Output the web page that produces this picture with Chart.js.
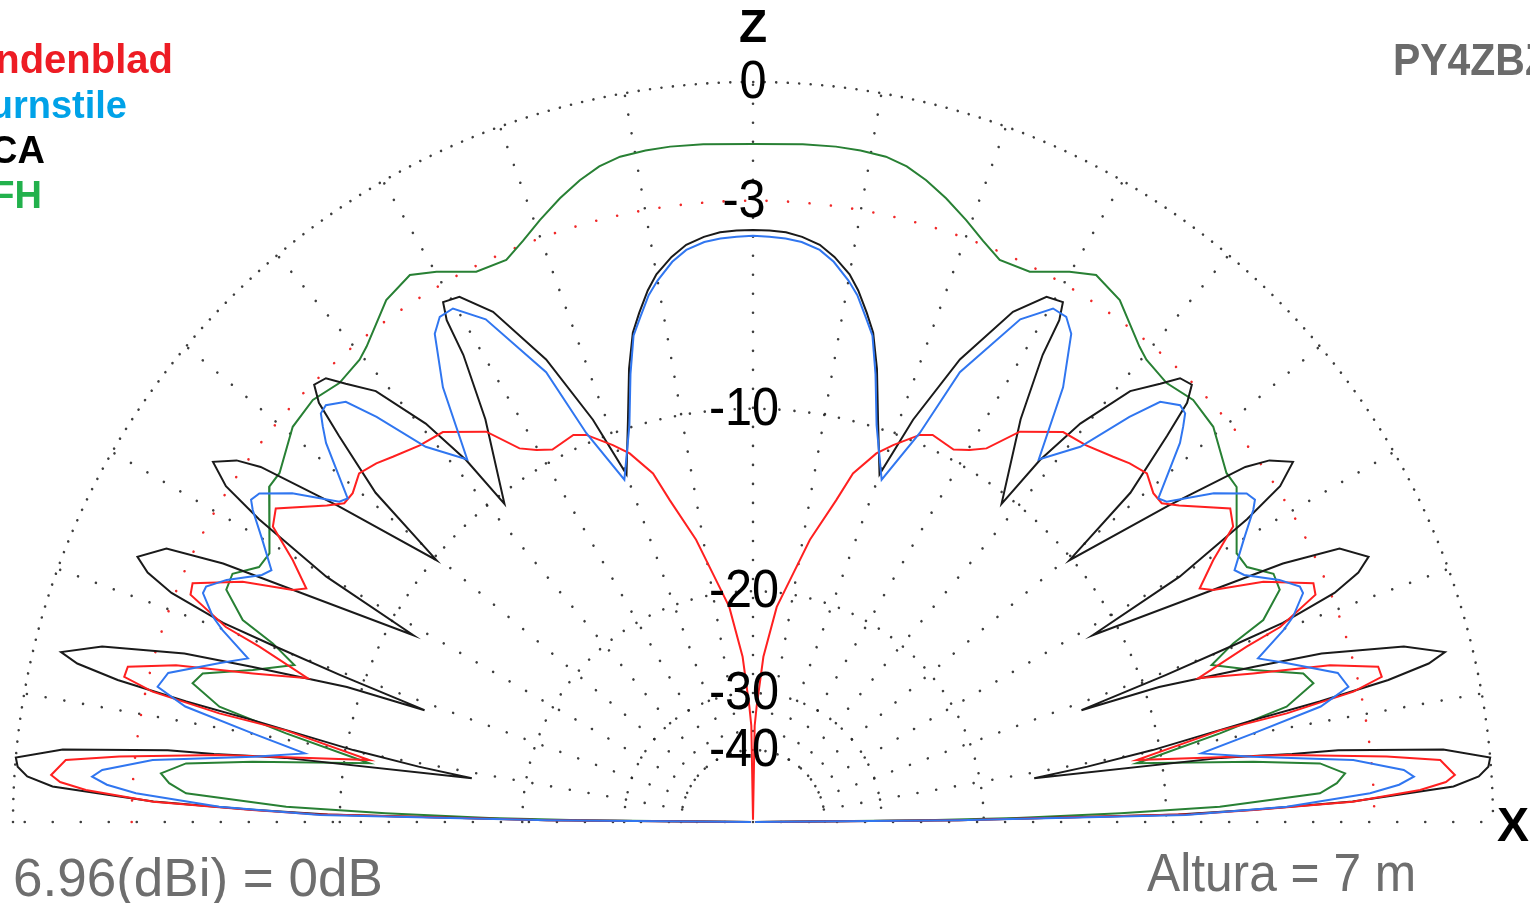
<!DOCTYPE html>
<html>
<head>
<meta charset="utf-8">
<title>Diagrama vertical - Altura 7 m</title>
<script src="https://cdn.jsdelivr.net/npm/chart.js@4/dist/chart.umd.min.js"></script>
<style>
  html, body { margin: 0; padding: 0; background: #fff; overflow: hidden; }
  canvas { display: block; }
</style>
</head>
<body>
<canvas id="diagrama" width="1530" height="903"></canvas>
<script>
// elevacao em graus (0 = horizonte, 90 = zenite) e ganho relativo em dB
// o diagrama e simetrico, o lado esquerdo e o espelho do direito
const angLindenblad = [0, 0.5, 1.0, 1.37, 1.94, 2.75, 3.3, 3.83, 5.16, 5.9, 7.16, 9.18, 11.1, 11.5, 12.25, 13.0, 13.95, 15.2, 16.55, 17.9, 19.55, 20.3, 22.0, 23.07, 25.2, 26.75, 27.6, 29.65, 31.6, 33.3, 36.6, 37.95, 39.4, 41.5, 43.6, 45.4, 48.5, 51.5, 55.65, 58.0, 59.8, 61.7, 65.1, 66.7, 69.6, 71.5, 74.0, 75.5, 78.6, 80.8, 83.7, 86.4, 88.2, 89.0, 90];
const dbLindenblad = [-100, -22, -9.0, -6.7, -3.6, -1.76, -1.1, -0.87, -1.2, -2.57, -5.47, -11.05, -7.57, -5.26, -3.19, -2.35, -2.38, -3.66, -6.0, -7.86, -5.93, -4.72, -3.41, -3.34, -4.66, -6.21, -6.59, -5.74, -4.67, -4.45, -5.7, -6.11, -6.12, -5.86, -6.05, -6.29, -6.63, -6.79, -7.69, -8.9, -9.3, -9.6, -9.45, -9.66, -10.47, -11.05, -12.24, -13.73, -16.2, -18.5, -21.1, -25.7, -31.9, -35, -100];

const angTurnstile = [0, 0.5, 0.92, 1.64, 2.66, 3.3, 3.93, 4.57, 5.9, 7.44, 8.7, 10.05, 11.5, 12.8, 14.3, 16.6, 17.95, 19.9, 20.8, 22.6, 23.3, 24.7, 26.7, 27.6, 29.9, 31.95, 32.7, 33.65, 35.5, 37.75, 38.6, 41.6, 42.6, 43.4, 44.3, 45.9, 47.1, 48.9, 51.75, 54.5, 56.9, 58.2, 59.7, 62.0, 65.3, 66.8, 69.4, 72.7, 74.7, 76.2, 77.4, 78.8, 80.0, 81.8, 83.35, 85.2, 86.8, 88.4, 90];
const dbTurnstile = [-100, -22, -9.2, -5.6, -3.1, -2.3, -1.9, -2.15, -3.5, -6.6, -8.4, -6.45, -4.2, -3.3, -3.5, -4.9, -5.7, -4.65, -4.25, -3.72, -3.73, -4.2, -5.1, -5.3, -4.6, -3.9, -3.7, -3.8, -4.6, -5.95, -6.1, -4.45, -4.05, -3.75, -3.69, -4.03, -5.0, -6.8, -8.1, -5.6, -4.1, -3.76, -3.75, -4.5, -6.9, -9.6, -12.1, -9.9, -8.0, -6.7, -6.15, -5.5, -5.1, -4.6, -4.3, -4.12, -4.05, -4.02, -4.0];

const angQCA = [0, 0.5, 1.0, 1.4, 1.95, 2.3, 2.9, 3.6, 4.3, 5.0, 6.0, 7.0, 7.2, 7.6, 7.8, 8.86, 9.4, 10.2, 11.5, 12.0, 12.6, 13.2, 13.8, 15.1, 16.5, 17.2, 18.4, 18.8, 19.6, 20.2, 20.6, 21.5, 22.4, 23.3, 25.0, 26.0, 28.8, 29.9, 31.5, 32.5, 33.7, 35.0, 35.8, 37.3, 39.6, 41.1, 43.0, 44.0, 44.9, 46.1, 47.1, 48.8, 50.6, 51.6, 52.0, 56.4, 58.2, 58.6, 59.2, 60.8, 63.0, 65.9, 68.3, 70.0, 72.7, 74.7, 76.2, 77.4, 78.8, 80.0, 81.8, 83.4, 85.2, 86.8, 88.4, 90];
const dbQCA = [-100, -22, -9.5, -6.7, -3.6, -2.65, -0.92, -0.3, -0.06, 0, -1.1, -3.9, -5.3, -6.9, -7.7, -16.4, -13.4, -10.3, -6.4, -4.2, -2.2, -1.1, -0.65, -1.6, -3.8, -5.9, -9.4, -13.0, -9.0, -6.3, -4.6, -2.9, -2.1, -1.7, -2.3, -3.9, -11.1, -7.0, -4.2, -2.9, -2.25, -2.75, -3.4, -6.0, -10.1, -6.7, -4.6, -3.5, -3.05, -3.15, -3.65, -4.4, -6.2, -8.1, -10.4, -7.3, -5.1, -3.95, -3.45, -3.55, -4.4, -6.5, -9.2, -11.9, -9.7, -7.8, -6.6, -6.0, -5.35, -4.9, -4.45, -4.15, -3.97, -3.87, -3.84, -3.83];

const angQFH = [0, 0.6, 0.87, 1.36, 1.88, 2.9, 3.8, 4.7, 5.9, 6.87, 8.7, 10.75, 12.2, 13.9, 15.1, 16.9, 18.9, 20.4, 21.6, 23.8, 25.5, 27.3, 29.05, 32.0, 34.7, 36.4, 40.65, 43.8, 46.7, 49.6, 50.9, 54.9, 57.9, 60.1, 63.3, 66.3, 68.4, 70.5, 72.8, 74.9, 76.8, 78.7, 80.9, 83.0, 85.8, 90];
const dbQFH = [-100, -25, -17.7, -12.0, -7.9, -4.55, -4.03, -3.77, -4.48, -6.59, -11.07, -7.6, -5.22, -4.26, -4.48, -5.96, -7.26, -6.31, -5.13, -4.31, -4.28, -4.91, -4.99, -4.48, -3.93, -3.94, -3.41, -3.32, -3.51, -3.4, -3.24, -2.55, -2.34, -2.63, -3.15, -3.21, -2.9, -2.53, -2.15, -1.84, -1.62, -1.49, -1.45, -1.44, -1.46, -1.5];

const nomes = ["Lindenblad", "Turnstile", "QCA", "QFH"];
const cores = ["rgb(255,32,32)", "rgb(48,118,240)", "rgb(26,26,26)", "rgb(40,128,52)"];
const coresLegenda = ["rgb(237,28,36)", "rgb(0,162,232)", "rgb(0,0,0)", "rgb(34,177,76)"];

// grade: aneis em dB e raios em graus
const aneisDb = [0, -10, -20, -30, -40];
const anelVermelhoDb = -3;
const raiosGraus = [10, 20, 30, 40, 50, 60, 70, 80, 90, 100, 110, 120, 130, 140, 150, 160, 170];
const rotulosDb = ["0", "-3", "-10", "-20", "-30", "-40"];
const valoresRotulos = [0, -3, -10, -20, -30, -40];

// escala logaritmica ARRL
function raioArrl(db) {
  return Math.pow(0.89, -db / 2);
}

function montarPontos(ang, db) {
  const pts = [];
  for (let i = 0; i < ang.length; i++) {
    const r = raioArrl(db[i]);
    const t = ang[i] * Math.PI / 180;
    pts.push({ x: r * Math.cos(t), y: r * Math.sin(t) });
  }
  // lado esquerdo (espelho)
  for (let i = ang.length - 2; i >= 0; i--) {
    const r = raioArrl(db[i]);
    const t = ang[i] * Math.PI / 180;
    pts.push({ x: -r * Math.cos(t), y: r * Math.sin(t) });
  }
  return pts;
}

function texto(ctx, s, x, y, tam, cor, alinh, peso, sx) {
  ctx.save();
  ctx.translate(x, y);
  ctx.scale(sx || 1, 1);
  ctx.font = (peso || "normal") + " " + tam + 'px "Liberation Sans", Arial, sans-serif';
  ctx.fillStyle = cor;
  ctx.textAlign = alinh || "left";
  ctx.textBaseline = "alphabetic";
  ctx.fillText(s, 0, 0);
  ctx.restore();
}

const grade = {
  id: "grade",
  beforeDatasetsDraw(chart) {
    const { ctx, scales: { x, y } } = chart;
    const cx = x.getPixelForValue(0);
    const cy = y.getPixelForValue(0);
    const R = x.getPixelForValue(1) - cx;
    const r0 = raioArrl(-40) * R;
    ctx.save();
    ctx.lineCap = "round";
    ctx.strokeStyle = "rgba(40,40,40,0.9)";
    ctx.lineWidth = 2.6;

    // raios
    ctx.setLineDash([0.01, 19]);
    raiosGraus.forEach(a => {
      const t = a * Math.PI / 180;
      ctx.beginPath();
      ctx.moveTo(cx + r0 * Math.cos(t), cy - r0 * Math.sin(t));
      ctx.lineTo(cx + R * Math.cos(t), cy - R * Math.sin(t));
      ctx.stroke();
    });

    // linha do horizonte
    ctx.setLineDash([0.01, 28]);
    ctx.beginPath();
    ctx.moveTo(cx, cy);
    ctx.lineTo(cx + R, cy);
    ctx.moveTo(cx, cy);
    ctx.lineTo(cx - R, cy);
    ctx.stroke();

    // aneis
    aneisDb.forEach(v => {
      const r = raioArrl(v) * R;
      ctx.setLineDash([0.01, v === 0 ? 11.5 : 15]);
      ctx.beginPath();
      ctx.arc(cx, cy, r, Math.PI, 2 * Math.PI);
      ctx.stroke();
    });

    ctx.strokeStyle = "rgb(240,40,40)";
    ctx.setLineDash([0.01, 21.5]);
    ctx.beginPath();
    ctx.arc(cx, cy, raioArrl(anelVermelhoDb) * R, Math.PI, 2 * Math.PI);
    ctx.stroke();
    ctx.restore();
  },
  afterDatasetsDraw(chart) {
    const { ctx, scales: { x, y } } = chart;
    const cx = x.getPixelForValue(0);
    const cy = y.getPixelForValue(0);
    const R = x.getPixelForValue(1) - cx;

    // rotulos dB no eixo vertical
    rotulosDb.forEach((s, i) => {
      const py = y.getPixelForValue(raioArrl(valoresRotulos[i])) + 16;
      texto(ctx, s, i === 0 ? cx : cx - 9, py, 54, "#000", "center", "normal", 0.9);
    });

    texto(ctx, "Z", cx, cy - R - 40, 46, "#000", "center", "bold");
    texto(ctx, "X", cx + R + 20, cy + 19, 48, "#000", "center", "bold");

    // legenda
    const fimLegenda = [173, 127, 45, 42];
    const baseLegenda = [73, 118, 163, 208];
    const tamLegenda = [40, 38, 38, 38];
    nomes.forEach((n, i) => {
      texto(ctx, n, fimLegenda[i], baseLegenda[i], tamLegenda[i], coresLegenda[i], "right", "bold");
    });

    texto(ctx, "PY4ZBZ", 1393, 75, 44, "#6b6b6b", "left", "bold", 0.93);
    texto(ctx, "6.96(dBi) = 0dB", 13, 896, 53, "#6e6e6e", "left", "normal");
    texto(ctx, "Altura = 7 m", 1147, 891, 54, "#6e6e6e", "left", "normal", 0.92);
  }
};

// o primeiro conjunto fica por cima
const series = [
  [angTurnstile, dbTurnstile, 1],
  [angLindenblad, dbLindenblad, 0],
  [angQCA, dbQCA, 2],
  [angQFH, dbQFH, 3]
];

const datasets = series.map(([ang, db, k]) => ({
  label: nomes[k],
  data: montarPontos(ang, db),
  showLine: true,
  borderColor: cores[k],
  backgroundColor: cores[k],
  borderWidth: 2,
  pointRadius: 0,
  fill: false,
  tension: 0,
  clip: false
}));

new Chart(document.getElementById("diagrama"), {
  type: "scatter",
  data: { datasets: datasets },
  options: {
    responsive: false,
    animation: false,
    layout: { padding: { left: 13, right: 37, top: 82, bottom: 81 } },
    scales: {
      x: { type: "linear", min: -1, max: 1, display: false },
      y: { type: "linear", min: 0, max: 1, display: false }
    },
    plugins: {
      legend: { display: false },
      tooltip: { enabled: false }
    },
    events: []
  },
  plugins: [grade]
});
</script>
</body>
</html>
